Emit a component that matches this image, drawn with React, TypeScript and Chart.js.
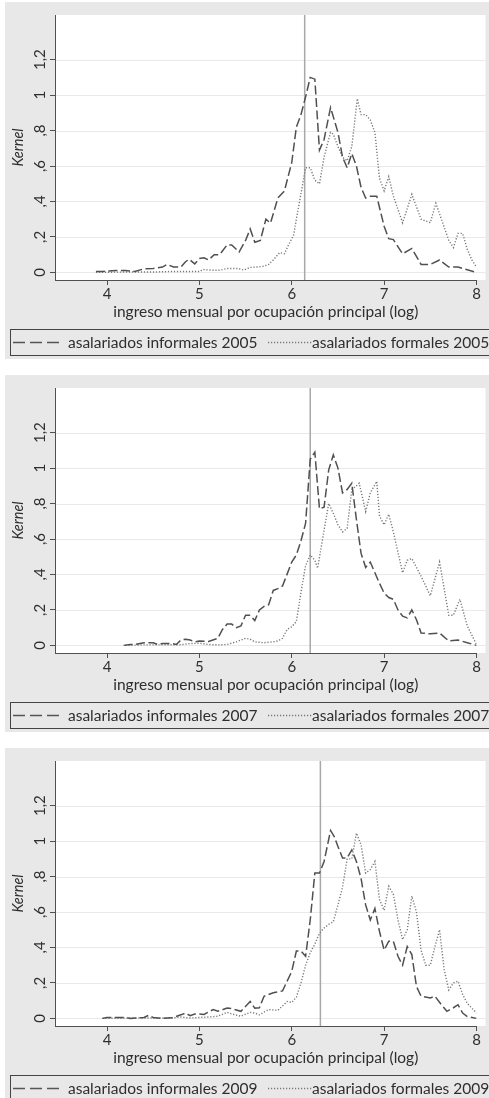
import React, { useEffect, useRef } from "react";
import { Chart, registerables } from "chart.js";

Chart.register(...registerables);

// ---------- data ----------
const xTicks = [4, 5, 6, 7, 8];
const yTicks = [0, 0.2, 0.4, 0.6, 0.8, 1, 1.2];
const yTickLabels = ["0", ",2", ",4", ",6", ",8", "1", "1,2"];
const years = ["2005", "2007", "2009"];
const medianLines = [6.14, 6.2, 6.31];
const xTitle = "ingreso mensual por ocupación principal (log)";
const yTitle = "Kernel";

const informal2005: [number, number][] = [
  [3.88, 0.005], [3.95, 0.005], [4.1, 0.01], [4.2, 0.01], [4.3, 0.005], [4.4, 0.02],
  [4.5, 0.022], [4.6, 0.03], [4.65, 0.045], [4.72, 0.03], [4.8, 0.03], [4.85, 0.06],
  [4.89, 0.074], [4.95, 0.048], [5.0, 0.078], [5.05, 0.082], [5.1, 0.07], [5.16, 0.1],
  [5.22, 0.1], [5.3, 0.155], [5.35, 0.155], [5.43, 0.115], [5.5, 0.18], [5.55, 0.245],
  [5.6, 0.17], [5.66, 0.18], [5.72, 0.3], [5.77, 0.278], [5.85, 0.42], [5.92, 0.458],
  [6.0, 0.62], [6.05, 0.82], [6.1, 0.89], [6.15, 0.99], [6.2, 1.1], [6.25, 1.09],
  [6.3, 0.69], [6.35, 0.75], [6.42, 0.93], [6.5, 0.79], [6.55, 0.65], [6.6, 0.59],
  [6.65, 0.67], [6.7, 0.6], [6.75, 0.48], [6.8, 0.42], [6.85, 0.43], [6.92, 0.43],
  [7.0, 0.26], [7.05, 0.19], [7.1, 0.185], [7.2, 0.105], [7.3, 0.135], [7.4, 0.045],
  [7.5, 0.045], [7.6, 0.07], [7.7, 0.03], [7.8, 0.03], [7.9, 0.015], [8.0, 0.0],
];
const formal2005: [number, number][] = [
  [3.88, 0.0], [4.2, 0.002], [4.5, 0.002], [4.7, 0.005], [4.9, 0.005], [5.0, 0.005],
  [5.04, 0.016], [5.15, 0.012], [5.22, 0.012], [5.3, 0.022], [5.42, 0.022], [5.48, 0.013],
  [5.55, 0.028], [5.62, 0.03], [5.7, 0.035], [5.75, 0.045], [5.8, 0.07], [5.87, 0.112],
  [5.92, 0.105], [5.97, 0.16], [6.02, 0.21], [6.06, 0.33], [6.1, 0.445], [6.15, 0.59],
  [6.2, 0.59], [6.25, 0.52], [6.3, 0.5], [6.35, 0.65], [6.42, 0.79], [6.45, 0.78],
  [6.5, 0.71], [6.55, 0.65], [6.6, 0.63], [6.65, 0.71], [6.71, 0.98], [6.75, 0.89],
  [6.8, 0.89], [6.85, 0.86], [6.9, 0.79], [6.95, 0.53], [7.0, 0.46], [7.05, 0.54],
  [7.1, 0.43], [7.2, 0.28], [7.3, 0.44], [7.4, 0.3], [7.5, 0.28], [7.56, 0.39],
  [7.6, 0.33], [7.7, 0.18], [7.75, 0.14], [7.8, 0.22], [7.85, 0.22], [7.9, 0.13],
  [7.95, 0.07], [8.0, 0.03],
];

const informal2007: [number, number][] = [
  [4.18, 0.0], [4.25, 0.005], [4.3, 0.005], [4.4, 0.015], [4.5, 0.015], [4.55, 0.005],
  [4.6, 0.01], [4.7, 0.01], [4.75, 0.005], [4.8, 0.03], [4.85, 0.035], [4.9, 0.03],
  [4.95, 0.02], [5.0, 0.025], [5.1, 0.022], [5.2, 0.04], [5.25, 0.09], [5.3, 0.12],
  [5.35, 0.12], [5.4, 0.1], [5.45, 0.11], [5.5, 0.17], [5.55, 0.17], [5.6, 0.14],
  [5.65, 0.2], [5.7, 0.22], [5.75, 0.23], [5.8, 0.31], [5.85, 0.32], [5.9, 0.335],
  [6.0, 0.47], [6.05, 0.51], [6.1, 0.59], [6.15, 0.69], [6.2, 1.05], [6.25, 1.09],
  [6.3, 0.77], [6.35, 0.78], [6.4, 0.99], [6.45, 1.075], [6.5, 1.0], [6.55, 0.86],
  [6.6, 0.88], [6.65, 0.915], [6.7, 0.71], [6.75, 0.52], [6.8, 0.44], [6.85, 0.47],
  [6.9, 0.41], [6.95, 0.35], [7.0, 0.295], [7.05, 0.27], [7.1, 0.26], [7.15, 0.2],
  [7.2, 0.165], [7.25, 0.155], [7.3, 0.2], [7.35, 0.145], [7.4, 0.07], [7.5, 0.065],
  [7.6, 0.07], [7.7, 0.025], [7.8, 0.03], [7.9, 0.015], [8.0, 0.0],
];
const formal2007: [number, number][] = [
  [4.2, 0.0], [4.4, 0.003], [4.6, 0.003], [4.8, 0.004], [4.9, 0.01], [5.0, 0.012],
  [5.1, 0.005], [5.2, 0.003], [5.3, 0.005], [5.4, 0.02], [5.5, 0.04], [5.55, 0.035],
  [5.6, 0.02], [5.7, 0.015], [5.8, 0.02], [5.85, 0.025], [5.9, 0.04], [5.95, 0.09],
  [6.0, 0.105], [6.05, 0.135], [6.1, 0.3], [6.15, 0.45], [6.2, 0.51], [6.25, 0.48],
  [6.28, 0.435], [6.35, 0.65], [6.4, 0.8], [6.45, 0.745], [6.5, 0.68], [6.55, 0.64],
  [6.6, 0.66], [6.65, 0.88], [6.7, 0.9], [6.73, 0.915], [6.8, 0.755], [6.85, 0.86],
  [6.92, 0.925], [6.95, 0.73], [7.0, 0.68], [7.05, 0.74], [7.1, 0.64], [7.2, 0.41],
  [7.25, 0.48], [7.3, 0.49], [7.4, 0.39], [7.5, 0.28], [7.6, 0.47], [7.7, 0.17],
  [7.75, 0.17], [7.82, 0.26], [7.9, 0.11], [8.0, 0.005],
];

const informal2009: [number, number][] = [
  [3.95, 0.0], [4.0, 0.005], [4.2, 0.005], [4.25, 0.0], [4.4, 0.005], [4.45, 0.017],
  [4.5, 0.005], [4.6, 0.0], [4.7, 0.003], [4.8, 0.02], [4.85, 0.03], [4.9, 0.015],
  [4.95, 0.025], [5.0, 0.025], [5.05, 0.022], [5.15, 0.05], [5.2, 0.04], [5.3, 0.058],
  [5.35, 0.055], [5.45, 0.04], [5.55, 0.095], [5.6, 0.058], [5.65, 0.06], [5.7, 0.125],
  [5.8, 0.145], [5.9, 0.155], [6.0, 0.265], [6.05, 0.38], [6.1, 0.38], [6.15, 0.35],
  [6.2, 0.555], [6.25, 0.82], [6.3, 0.82], [6.35, 0.885], [6.42, 1.06], [6.46, 1.025],
  [6.5, 0.97], [6.55, 0.905], [6.6, 0.905], [6.65, 0.95], [6.7, 0.885], [6.75, 0.79],
  [6.8, 0.64], [6.85, 0.555], [6.9, 0.62], [6.95, 0.49], [7.0, 0.385], [7.05, 0.435],
  [7.1, 0.435], [7.15, 0.35], [7.2, 0.3], [7.25, 0.405], [7.3, 0.36], [7.35, 0.18],
  [7.4, 0.125], [7.5, 0.115], [7.55, 0.125], [7.62, 0.077], [7.68, 0.04], [7.75, 0.06],
  [7.8, 0.077], [7.85, 0.03], [7.9, 0.01], [8.0, 0.0],
];
const formal2009: [number, number][] = [
  [3.95, 0.0], [4.3, 0.002], [4.7, 0.002], [4.8, 0.008], [4.9, 0.002], [5.0, 0.005],
  [5.1, 0.008], [5.2, 0.012], [5.3, 0.034], [5.35, 0.025], [5.45, 0.012], [5.55, 0.034],
  [5.6, 0.03], [5.65, 0.02], [5.75, 0.05], [5.85, 0.045], [5.95, 0.095], [6.0, 0.09],
  [6.05, 0.12], [6.1, 0.2], [6.15, 0.3], [6.2, 0.37], [6.25, 0.42], [6.3, 0.48],
  [6.35, 0.51], [6.4, 0.53], [6.45, 0.545], [6.5, 0.64], [6.55, 0.74], [6.6, 0.9],
  [6.65, 0.9], [6.7, 1.045], [6.75, 0.98], [6.8, 0.82], [6.85, 0.84], [6.9, 0.885],
  [6.95, 0.67], [7.0, 0.61], [7.05, 0.745], [7.1, 0.7], [7.15, 0.555], [7.2, 0.445],
  [7.25, 0.5], [7.3, 0.69], [7.35, 0.6], [7.4, 0.385], [7.45, 0.3], [7.5, 0.3],
  [7.55, 0.405], [7.6, 0.5], [7.65, 0.275], [7.7, 0.16], [7.75, 0.2], [7.8, 0.21],
  [7.85, 0.135], [7.9, 0.085], [8.0, 0.03],
];

const informalSeries = [informal2005, informal2007, informal2009];
const formalSeries = [formal2005, formal2007, formal2009];

// ---------- layout / style ----------
const X_MIN = 3.437;
const X_MAX = 8;
const Y_MIN = -0.043;
const Y_MAX = 1.452;
const CW = 484;
const CH = 357;
const FONT = "Lato";
const TEXT = "#2e2e2e";
const AXIS = "#505050";
const PANEL_TOPS = [2, 375, 748];

function Panel({ idx }: { idx: number }) {
  const ref = useRef<HTMLCanvasElement | null>(null);
  useEffect(() => {
    const year = years[idx];
    const vx = medianLines[idx];
    const bgPlugin = {
      id: "stataBg",
      beforeDraw(chart: any) {
        const { ctx, chartArea } = chart;
        const ys = chart.scales.y;
        ctx.save();
        ctx.fillStyle = "#ffffff";
        ctx.fillRect(chartArea.left, chartArea.top, chartArea.right - chartArea.left + 9, chartArea.bottom - chartArea.top);
        ctx.strokeStyle = "#e9e9e9";
        ctx.lineWidth = 1;
        for (const v of yTicks) {
          const py = Math.round(ys.getPixelForValue(v)) + 0.5;
          ctx.beginPath();
          ctx.moveTo(chartArea.left, py);
          ctx.lineTo(chartArea.right + 9, py);
          ctx.stroke();
        }
        ctx.restore();
      },
      afterDraw(chart: any) {
        const { ctx, chartArea } = chart;
        ctx.save();
        // x-axis title
        ctx.fillStyle = TEXT;
        ctx.font = `15.5px ${FONT}`;
        ctx.textBaseline = "middle";
        ctx.textAlign = "center";
        ctx.fillText(xTitle, (chartArea.left + chartArea.right) / 2, 310);
        // legend box
        ctx.strokeStyle = "#444444";
        ctx.lineWidth = 1;
        ctx.strokeRect(5.5, 327.5, 479, 26);
        const cy = 340.5;
        ctx.strokeStyle = "#555555";
        ctx.lineWidth = 1.3;
        ctx.setLineDash([12, 5]);
        ctx.beginPath();
        ctx.moveTo(8, cy);
        ctx.lineTo(55, cy);
        ctx.stroke();
        ctx.strokeStyle = "#777777";
        ctx.setLineDash([1.2, 1.8]);
        ctx.beginPath();
        ctx.moveTo(263, cy);
        ctx.lineTo(307, cy);
        ctx.stroke();
        ctx.setLineDash([]);
        ctx.fillStyle = TEXT;
        ctx.font = `15.5px ${FONT}`;
        ctx.textBaseline = "middle";
        ctx.textAlign = "left";
        ctx.fillText(`asalariados informales ${year}`, 63, cy);
        ctx.fillText(`asalariados formales ${year}`, 307, cy);
        ctx.restore();
      },
    };

    const chart = new Chart(ref.current as HTMLCanvasElement, {
      type: "scatter",
      data: {
        datasets: [
          {
            label: `asalariados informales ${year}`,
            data: informalSeries[idx].map(([x, y]) => ({ x, y })),
            showLine: true,
            borderColor: "#505050",
            borderWidth: 1.5,
            borderDash: [9, 3.5],
            pointRadius: 0,
            tension: 0,
          },
          {
            label: `asalariados formales ${year}`,
            data: formalSeries[idx].map(([x, y]) => ({ x, y })),
            showLine: true,
            borderColor: "#777777",
            borderWidth: 1.4,
            borderDash: [1.2, 1.8],
            pointRadius: 0,
            tension: 0,
          },
          {
            label: "vline",
            data: [
              { x: vx, y: Y_MIN },
              { x: vx, y: Y_MAX },
            ],
            showLine: true,
            borderColor: "#a8a8a8",
            borderWidth: 1.5,
            pointRadius: 0,
          },
        ],
      } as any,
      options: {
        animation: false,
        responsive: false,
        layout: { padding: { left: 0, right: 12.5, top: 13, bottom: 0 } },
        plugins: { legend: { display: false }, tooltip: { enabled: false } },
        scales: {
          x: {
            type: "linear",
            min: X_MIN,
            max: X_MAX,
            afterBuildTicks: (s: any) => {
              s.ticks = xTicks.map((v) => ({ value: v }));
            },
            afterFit: (s: any) => {
              s.height = 79;
            },
            ticks: {
              font: { family: FONT, size: 15 },
              color: TEXT,
              padding: 0,
              maxRotation: 0,
              minRotation: 0,
              callback: (v: any) => String(v),
            },
            grid: { drawOnChartArea: false, drawTicks: true, tickLength: 5, color: AXIS, lineWidth: 1 },
            border: { display: true, color: AXIS, width: 1 },
            title: { display: false },
          },
          y: {
            type: "linear",
            min: Y_MIN,
            max: Y_MAX,
            afterBuildTicks: (s: any) => {
              s.ticks = yTicks.map((v) => ({ value: v }));
            },
            afterFit: (s: any) => {
              s.width = 50;
            },
            ticks: {
              font: { family: FONT, size: 15 },
              color: TEXT,
              minRotation: 90,
              maxRotation: 90,
              crossAlign: "center",
              padding: -1,
              callback: (_v: any, i: number) => yTickLabels[i],
            },
            grid: { drawOnChartArea: false, drawTicks: true, tickLength: 5, color: AXIS, lineWidth: 1 },
            border: { display: true, color: AXIS, width: 1 },
            title: {
              display: true,
              text: yTitle,
              font: { family: FONT, size: 14.5, style: "italic" },
              color: TEXT,
              padding: { top: 5, bottom: 0 },
            },
          },
        },
      } as any,
      plugins: [bgPlugin],
    });
    return () => chart.destroy();
  }, [idx]);

  return (
    <div
      style={{
        position: "absolute",
        left: 5,
        top: PANEL_TOPS[idx],
        width: CW,
        height: CH,
        background: "#e8e8e8",
      }}
    >
      <canvas ref={ref} width={CW} height={CH} style={{ display: "block", width: CW, height: CH }} />
    </div>
  );
}

export default function App() {
  return (
    <div
      style={{
        position: "absolute",
        left: 0,
        top: 0,
        width: 489,
        height: 1098,
        background: "#ffffff",
        overflow: "hidden",
      }}
    >
      <Panel idx={0} />
      <Panel idx={1} />
      <Panel idx={2} />
    </div>
  );
}
